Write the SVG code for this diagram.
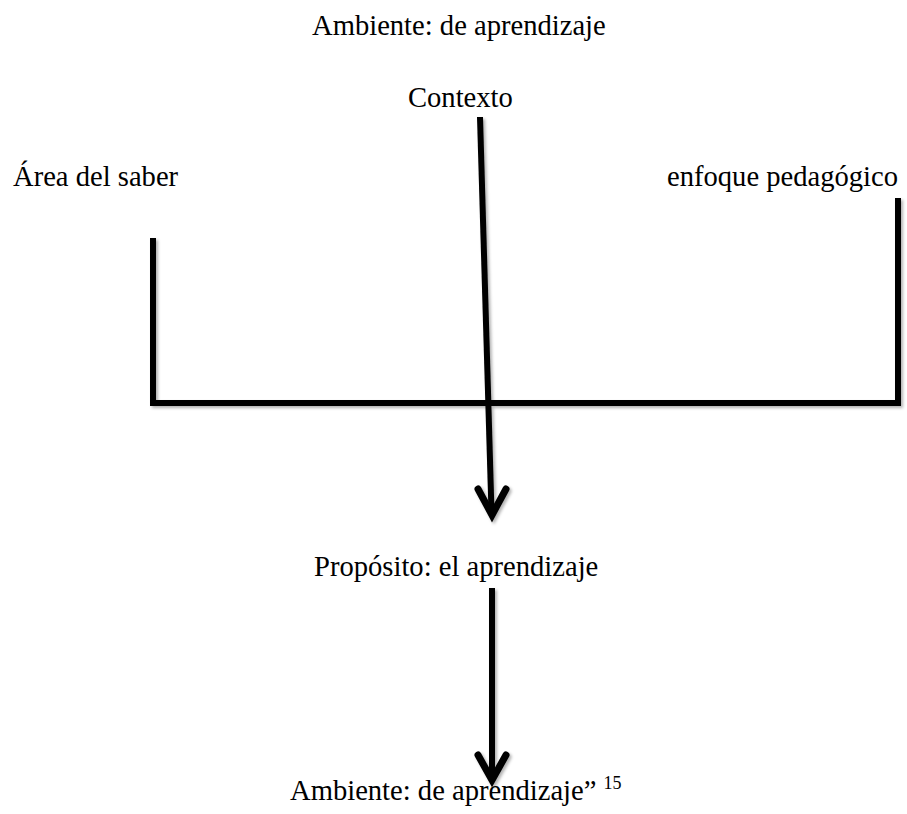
<svg xmlns="http://www.w3.org/2000/svg" width="907" height="814" viewBox="0 0 907 814">
<style>
.t{font-family:"Liberation Serif","Times New Roman",serif;font-size:28.6px;fill:#000}
.ln{stroke:#000;stroke-width:6;fill:none}
.hd{stroke:#000;stroke-width:7;fill:none;stroke-linecap:round;stroke-linejoin:miter}
</style>
<defs>
<filter id="sh" x="-20%" y="-20%" width="140%" height="140%">
<feDropShadow dx="2" dy="2" stdDeviation="1.5" flood-color="#000" flood-opacity="0.3"/>
</filter>
</defs>
<rect width="907" height="814" fill="#fff"/>
<g id="title"><text class="t" x="312" y="35">Ambiente: de aprendizaje</text></g>
<g id="contexto"><text class="t" x="408" y="107">Contexto</text></g>
<g id="area"><text class="t" x="13" y="186">Área del saber</text></g>
<g id="enfoque"><text class="t" x="667" y="186">enfoque pedagógico</text></g>
<g id="proposito"><text class="t" x="314" y="576">Propósito: el aprendizaje</text></g>
<g id="ambiente"><text class="t" x="290" y="800">Ambiente: de aprendizaje” <tspan font-size="18" dy="-11">15</tspan></text></g>
<g id="connectors" filter="url(#sh)">
<path class="ln" d="M153 238 V403 H898 V198" stroke-linejoin="miter"/>
<path class="ln" d="M480 117 L491.5 512"/>
<path class="hd" d="M478 489 L492 515 L506 489"/>
<path class="ln" d="M492 588 V778"/>
<path class="hd" d="M478 755 L492 780 L506 755"/>
</g>
</svg>
